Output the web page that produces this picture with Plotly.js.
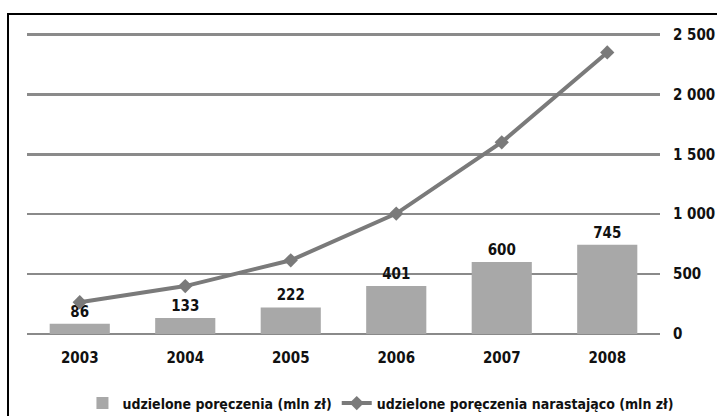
<!DOCTYPE html>
<html><head><meta charset="utf-8">
<script src="https://cdn.plot.ly/plotly-3.0.1.min.js"></script>
<style>html,body{margin:0;padding:0;background:#fff;}#chart{width:717px;height:416px;}</style>
</head><body><div id="chart"></div>
<script>
const years = ['2003','2004','2005','2006','2007','2008'];
const granted = [86, 133, 222, 401, 600, 745];
const cumulative = [265, 400, 615, 1005, 1600, 2350];
const yTicks = [0, 500, 1000, 1500, 2000, 2500];
const nameBars = 'udzielone poręczenia (mln zł)';
const nameLine = 'udzielone poręczenia narastająco (mln zł)';

const font = "'DejaVu Sans Condensed', 'Liberation Sans Narrow', Arial, sans-serif";

const traces = [
  {type:'bar', x:years, y:granted, name:nameBars,
   marker:{color:'#a8a8a8'}, text:granted.map(String), textposition:'outside',
   textfont:{family:font, size:15, color:'#111', weight:'bold'}, cliponaxis:false},
  {type:'scatter', mode:'lines+markers', x:years, y:cumulative, name:nameLine,
   line:{color:'#7a7a7a', width:4}, marker:{symbol:'diamond', size:11, color:'#7a7a7a'}}
];

const layout = {
  width:717, height:416,
  margin:{l:27, r:57, t:33, b:82, autoexpand:false},
  paper_bgcolor:'#fff', plot_bgcolor:'#fff',
  separators:', ',
  font:{family:font, size:14, color:'#111', weight:'bold'},
  bargap:0.43,
  showlegend:true,
  legend:{orientation:'h', xref:'container', x:0.115, xanchor:'left', yref:'container', y:0.03, yanchor:'middle',
          font:{family:font, size:14, color:'#111', weight:'bold'}, itemwidth:30, traceorder:'normal'},
  xaxis:{type:'category', showgrid:false, zeroline:false, showline:false, ticks:'', ticklabelstandoff:13,
         tickfont:{family:font, size:15, color:'#111', weight:'bold'}},
  yaxis:{side:'right', range:[0,2512], tickvals:yTicks, tickformat:',d',
         showgrid:true, gridcolor:'#8a8a8a', gridwidth:2.5, zeroline:true, zerolinecolor:'#8a8a8a', zerolinewidth:2.5,
         showline:false, ticks:'', ticklabelstandoff:12,
         tickfont:{family:font, size:15, color:'#111', weight:'bold'}},
  shapes:[{type:'rect', xref:'paper', yref:'paper', x0:-0.030, x1:1.2, y0:-0.4, y1:1.063,
           line:{color:'#000', width:2}, fillcolor:'rgba(0,0,0,0)', layer:'below'}]
};
Plotly.newPlot('chart', traces, layout, {displayModeBar:false, staticPlot:true});
</script></body></html>
